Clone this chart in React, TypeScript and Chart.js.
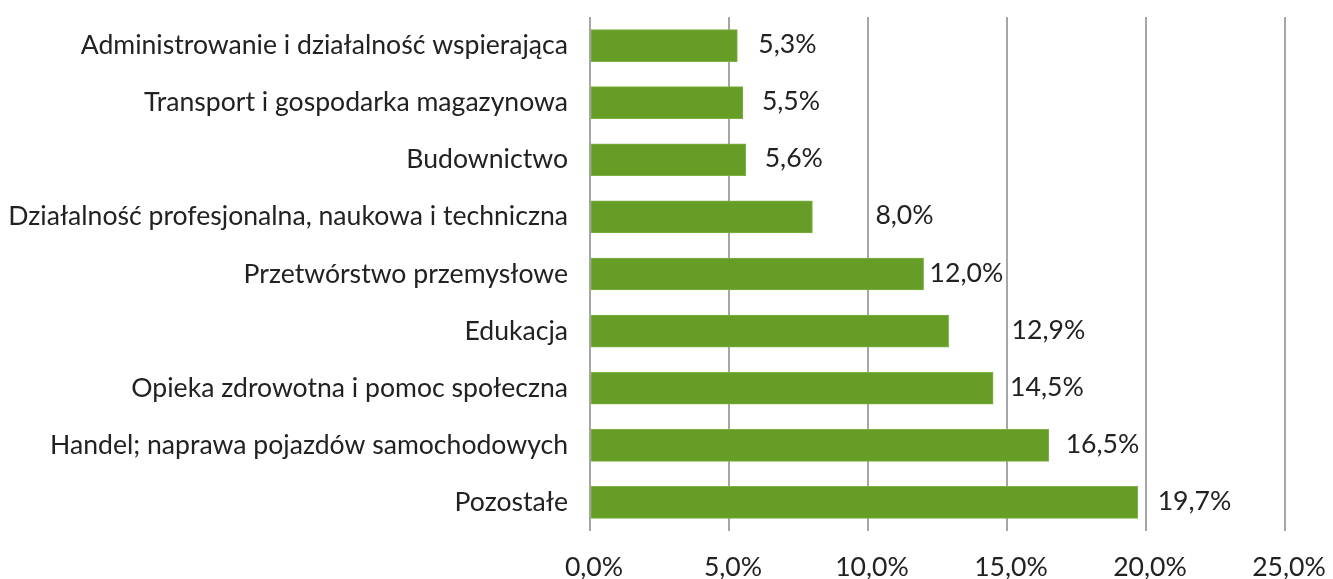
import React, { useEffect, useRef } from "react";
import { Chart, registerables } from "chart.js";

Chart.register(...registerables);

const categories = [
  "Administrowanie i działalność wspierająca",
  "Transport i gospodarka magazynowa",
  "Budownictwo",
  "Działalność profesjonalna, naukowa i techniczna",
  "Przetwórstwo przemysłowe",
  "Edukacja",
  "Opieka zdrowotna i pomoc społeczna",
  "Handel; naprawa pojazdów samochodowych",
  "Pozostałe",
];

const values = [5.3, 5.5, 5.6, 8.0, 12.0, 12.9, 14.5, 16.5, 19.7];

const labelOffsets = [21, 19, 19, 63, 6, 63, 17, 17, 20];

const xTicks = [0, 5, 10, 15, 20, 25];

const FONT = "Lato";
const FSIZE = 26.6;
const TEXT = "#222222";

const fmt = (v: number) => v.toFixed(1).replace(".", ",") + "%";

export default function App() {
  const ref = useRef<HTMLCanvasElement | null>(null);

  useEffect(() => {
    document.body.style.margin = "0";
    let chart: Chart | null = null;
    let cancelled = false;

    const labelPlugin = {
      id: "barLabels",
      afterDatasetsDraw(c: any) {
        const ctx = c.ctx;
        const meta = c.getDatasetMeta(0);
        ctx.save();
        ctx.font = `${FSIZE}px ${FONT}`;
        ctx.fillStyle = TEXT;
        ctx.textAlign = "left";
        ctx.textBaseline = "middle";
        meta.data.forEach((el: any, i: number) => {
          ctx.fillText(fmt(values[i]), el.x + labelOffsets[i], el.y - 1);
        });
        ctx.restore();
      },
    };

    const make = () => {
      if (cancelled || !ref.current) return;
      chart = new Chart(ref.current, {
        type: "bar",
        data: {
          labels: categories,
          datasets: [
            {
              data: values,
              backgroundColor: "#669d26",
              borderColor: "#7fb044",
              borderWidth: 1,
              borderSkipped: false,
              barThickness: 32,
            },
          ],
        },
        options: {
          indexAxis: "y",
          animation: false,
          responsive: false,
          maintainAspectRatio: false,
          layout: { padding: { top: 17, right: 48, left: 0, bottom: 0 } },
          plugins: {
            legend: { display: false },
            tooltip: { enabled: false },
          },
          scales: {
            x: {
              min: xTicks[0],
              max: xTicks[xTicks.length - 1],
              afterBuildTicks: (s: any) => {
                s.ticks = xTicks.map((v) => ({ value: v }));
              },
              afterFit: (s: any) => {
                s.height = 48;
                s.paddingLeft = 0;
                s.paddingRight = 0;
              },
              ticks: {
                callback: (v: any) => fmt(Number(v)),
                font: { family: FONT, size: FSIZE },
                color: TEXT,
                padding: 20,
                labelOffset: 4,
                maxRotation: 0,
                autoSkip: false,
              },
              grid: {
                color: "#a6a6a6",
                lineWidth: 2,
                drawTicks: false,
              },
              border: { display: false },
            },
            y: {
              afterFit: (s: any) => {
                s.width = 590;
                s.paddingTop = 0;
                s.paddingBottom = 0;
              },
              ticks: {
                font: { family: FONT, size: FSIZE },
                color: TEXT,
                padding: 22,
                autoSkip: false,
              },
              grid: { display: false, drawTicks: false },
              border: { display: false },
            },
          },
        },
        plugins: [labelPlugin],
      });
    };

    const fonts: any = (document as any).fonts;
    if (fonts && fonts.load) {
      fonts.load(`${FSIZE}px ${FONT}`).then(make, make);
    } else {
      make();
    }

    return () => {
      cancelled = true;
      if (chart) chart.destroy();
    };
  }, []);

  return (
    <div style={{ position: "relative", width: 1333, height: 579 }}>
      <canvas ref={ref} width={1333} height={579} style={{ display: "block" }} />
    </div>
  );
}
